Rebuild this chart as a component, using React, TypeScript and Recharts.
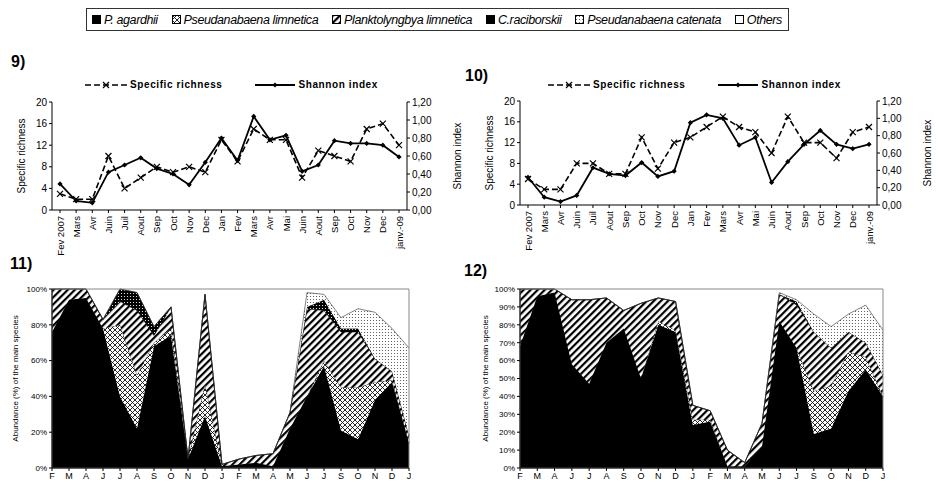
import React from 'react';
import { ComposedChart, Line, AreaChart, Area, XAxis, YAxis, ReferenceArea } from 'recharts';

// sampling months for panels 9) and 10)
const richMonths = ['Fev 2007', 'Mars', 'Avr', 'Juin', 'Juil', 'Aout', 'Sep', 'Oct', 'Nov', 'Dec', 'Jan', 'Fev', 'Mars', 'Avr', 'Mai', 'Juin', 'Aout', 'Sep', 'Oct', 'Nov', 'Dec', 'janv.-09'];
const richness9 = [3, 2, 2, 10, 4, 6, 8, 7, 8, 7, 13, 9, 15, 13, 13, 6, 11, 10, 9, 15, 16, 12];
const shannon9 = [0.29, 0.1, 0.08, 0.42, 0.5, 0.58, 0.46, 0.4, 0.28, 0.53, 0.8, 0.55, 1.04, 0.78, 0.83, 0.43, 0.5, 0.77, 0.74, 0.74, 0.72, 0.59];
const richness10 = [5, 3, 3, 8, 8, 6, 6, 13, 7, 12, 13, 15, 17, 15, 14, 10, 17, 12, 12, 9, 14, 15];
const shannon10 = [0.32, 0.09, 0.04, 0.11, 0.43, 0.36, 0.34, 0.49, 0.33, 0.39, 0.95, 1.04, 1.0, 0.69, 0.78, 0.26, 0.5, 0.7, 0.86, 0.7, 0.65, 0.7];
const richTicks = [0, 4, 8, 12, 16, 20];
const shannonTicks = [0, 0.2, 0.4, 0.6, 0.8, 1.0, 1.2];

// months for panels 11) and 12)
const areaMonths = ['F', 'M', 'A', 'J', 'J', 'A', 'S', 'O', 'N', 'D', 'J', 'F', 'M', 'A', 'M', 'J', 'J', 'S', 'O', 'N', 'D', 'J'];
const agardhii11 = [76, 94, 95, 78, 40, 22, 68, 74, 5, 29, 1, 2, 3, 1, 22, 40, 57, 21, 16, 38, 48, 14];
const limnetica11 = [0, 0, 0, 0, 40, 30, 2, 4, 0, 18, 0, 0, 0, 0, 0, 0, 3, 24, 29, 10, 1, 0];
const plankto11 = [24, 6, 5, 5, 13, 36, 4, 12, 0, 50, 1, 3, 4, 7, 9, 49, 28, 31, 31, 13, 5, 4];
const racib11 = [0, 0, 0, 0, 7, 10, 5, 0, 0, 0, 0, 0, 0, 0, 0, 1, 6, 2, 2, 0, 0, 0];
const catenata11 = [0, 0, 0, 0, 0, 0, 0, 0, 0, 0, 0, 0, 0, 0, 0, 8, 3, 6, 11, 26, 24, 49];

const agardhii12 = [68, 96, 98, 58, 47, 70, 78, 50, 80, 76, 24, 26, 1, 1, 12, 82, 67, 19, 22, 43, 55, 40];
const limnetica12 = [0, 0, 0, 0, 0, 0, 0, 0, 2, 1, 3, 1, 0, 0, 0, 0, 0, 24, 24, 22, 7, 0];
const plankto12 = [32, 4, 2, 36, 47, 25, 10, 42, 13, 16, 8, 5, 9, 2, 13, 15, 24, 33, 21, 11, 8, 12];
const racib12 = [0, 0, 0, 0, 0, 0, 0, 0, 0, 0, 0, 0, 0, 0, 0, 0, 2, 0, 0, 0, 0, 0];
const catenata12 = [0, 0, 0, 0, 0, 0, 0, 0, 0, 0, 0, 0, 0, 0, 0, 1, 1, 10, 12, 10, 21, 25];

const ticks11 = [0, 20, 40, 60, 80, 100];
const ticks12 = [0, 10, 20, 30, 40, 50, 60, 70, 80, 90, 100];

const FONT = "'Liberation Sans', Arial, sans-serif";

const Patterns = () => (
  <svg width={0} height={0} style={{ position: 'absolute' }}>
    <defs>
      <pattern id="pDiag" width={5} height={5} patternUnits="userSpaceOnUse" patternTransform="rotate(45)">
        <rect width={5} height={5} fill="#fff" />
        <rect width={2.2} height={5} fill="#000" />
      </pattern>
      <pattern id="pCross" width={5} height={5} patternUnits="userSpaceOnUse">
        <rect width={5} height={5} fill="#fff" />
        <path d="M0,0L5,5M5,0L0,5" stroke="#111" strokeWidth={0.9} />
      </pattern>
      <pattern id="pDark" width={3} height={3} patternUnits="userSpaceOnUse">
        <rect width={3} height={3} fill="#000" />
        <circle cx={1.5} cy={1.5} r={0.6} fill="#fff" />
      </pattern>
      <pattern id="pDots" width={3} height={3} patternUnits="userSpaceOnUse">
        <rect width={3} height={3} fill="#fff" />
        <circle cx={1.5} cy={1.5} r={0.55} fill="#444" />
      </pattern>
    </defs>
  </svg>
);

const RotTick = (props: any) => {
  const { x, y, payload } = props;
  return (
    <text x={x} y={y} transform={`rotate(-90, ${x}, ${y})`} textAnchor="end" dx={-1} dy={3.5} fontSize={9.5} fill="#000" fontFamily={FONT}>
      {payload.value}
    </text>
  );
};

const CrossDot = (p: any) => {
  const { cx, cy } = p;
  if (cx == null || cy == null) return null;
  const s = 3;
  return <path key={`c${p.index}`} d={`M${cx - s},${cy - s}L${cx + s},${cy + s}M${cx + s},${cy - s}L${cx - s},${cy + s}`} stroke="#000" strokeWidth={1.2} fill="none" />;
};

const DiamondDot = (p: any) => {
  const { cx, cy } = p;
  if (cx == null || cy == null) return null;
  const s = 2.6;
  return <path key={`d${p.index}`} d={`M${cx},${cy - s}L${cx + s},${cy}L${cx},${cy + s}L${cx - s},${cy}Z`} fill="#000" />;
};

const LineLegend = ({ left, top }: { left: number; top: number }) => (
  <div style={{ position: 'absolute', left, top, display: 'flex', alignItems: 'center', fontFamily: FONT, fontSize: 10, fontWeight: 'bold', letterSpacing: 0.6, whiteSpace: 'nowrap' }}>
    <svg width={42} height={10}>
      <line x1={0} y1={5} x2={42} y2={5} stroke="#000" strokeWidth={1.6} strokeDasharray="6 3" />
      <path d="M18,2L24,8M24,2L18,8" stroke="#000" strokeWidth={1.2} />
    </svg>
    <span style={{ marginLeft: 3 }}>Specific richness</span>
    <svg width={40} height={10} style={{ marginLeft: 33 }}>
      <line x1={0} y1={5} x2={40} y2={5} stroke="#000" strokeWidth={1.8} />
      <path d="M20,2.4L22.6,5L20,7.6L17.4,5Z" fill="#000" />
    </svg>
    <span style={{ marginLeft: 3 }}>Shannon index</span>
  </div>
);

function DiversityChart({ richness, shannon, margin, width }: { richness: number[]; shannon: number[]; margin: any; width: number }) {
  const data = richMonths.map((m, i) => ({ m, r: richness[i], s: shannon[i] }));
  return (
    <ComposedChart width={width} height={200} data={data} margin={margin}>
      <XAxis dataKey="m" interval={0} height={50} tick={<RotTick />} tickSize={3} stroke="#000" padding={{ left: 8, right: 8 }} />
      <YAxis yAxisId="l" domain={[0, 20]} ticks={richTicks} width={42} tickSize={3} stroke="#000"
        tick={{ fontSize: 10, fill: '#000', fontFamily: FONT }}
        label={{ value: 'Specific richness', angle: -90, position: 'insideLeft', dx: 6, style: { textAnchor: 'middle', fontSize: 10, fill: '#000', fontFamily: FONT } }} />
      <YAxis yAxisId="r" orientation="right" domain={[0, 1.2]} ticks={shannonTicks} width={55} tickSize={3} stroke="#000"
        tickFormatter={(v: number) => v.toFixed(2).replace('.', ',')}
        tick={{ fontSize: 10, fill: '#000', fontFamily: FONT }}
        label={{ value: 'Shannon index', angle: -90, position: 'insideRight', dx: 0, style: { textAnchor: 'middle', fontSize: 10, fill: '#000', fontFamily: FONT } }} />
      <Line yAxisId="l" dataKey="r" type="linear" stroke="#000" strokeWidth={1.6} strokeDasharray="6 3" dot={CrossDot} isAnimationActive={false} />
      <Line yAxisId="r" dataKey="s" type="linear" stroke="#000" strokeWidth={1.8} dot={DiamondDot} isAnimationActive={false} />
    </ComposedChart>
  );
}

function AbundanceChart({ agardhii, limnetica, plankto, racib, catenata, ticks, margin, width, yWidth }: any) {
  const data = areaMonths.map((m, i) => ({ i, a: agardhii[i], l: limnetica[i], p: plankto[i], c: racib[i], k: catenata[i] }));
  const idx = areaMonths.map((_, i) => i);
  const last = areaMonths.length - 1;
  return (
    <AreaChart width={width} height={232} data={data} margin={margin}>
      <XAxis dataKey="i" type="number" domain={[0, last]} ticks={idx} interval={0} tickFormatter={(v: number) => areaMonths[v]}
        height={14} tickSize={3} stroke="#000" tick={{ fontSize: 9, fill: '#000', fontFamily: FONT }} />
      <YAxis domain={[0, 100]} ticks={ticks} width={yWidth} tickSize={3} stroke="#000" tickFormatter={(v: number) => `${v}%`}
        tick={{ fontSize: 8, fill: '#000', fontFamily: FONT }}
        label={{ value: 'Abundance (%) of the main species', angle: -90, position: 'insideLeft', dx: 2, style: { textAnchor: 'middle', fontSize: 8, fill: '#000', fontFamily: FONT } }} />
      <Area dataKey="a" stackId="1" type="linear" fill="#000" fillOpacity={1} stroke="#000" strokeWidth={0.6} isAnimationActive={false} />
      <Area dataKey="l" stackId="1" type="linear" fill="url(#pCross)" fillOpacity={1} stroke="#000" strokeWidth={0.6} isAnimationActive={false} />
      <Area dataKey="p" stackId="1" type="linear" fill="url(#pDiag)" fillOpacity={1} stroke="#000" strokeWidth={0.6} isAnimationActive={false} />
      <Area dataKey="c" stackId="1" type="linear" fill="url(#pDark)" fillOpacity={1} stroke="#000" strokeWidth={0.6} isAnimationActive={false} />
      <Area dataKey="k" stackId="1" type="linear" fill="url(#pDots)" fillOpacity={1} stroke="#333" strokeWidth={0.6} isAnimationActive={false} />
      <ReferenceArea x1={0} x2={last} y1={0} y2={100} fill="none" stroke="#888" strokeWidth={1} />
    </AreaChart>
  );
}

const legendItems = [
  { name: 'P. agardhii', fill: '#000' },
  { name: 'Pseudanabaena limnetica', fill: 'url(#pCross)' },
  { name: 'Planktolyngbya limnetica', fill: 'url(#pDiag)' },
  { name: 'C.raciborskii', fill: '#000' },
  { name: 'Pseudanabaena catenata', fill: 'url(#pDots)' },
  { name: 'Others', fill: '#fff' },
];

const panelLabel = (text: string, left: number, top: number) => (
  <div style={{ position: 'absolute', left, top, fontFamily: FONT, fontWeight: 'bold', fontSize: 16 }}>{text}</div>
);

export default function App() {
  return (
    <div style={{ position: 'absolute', left: 0, top: 0, width: 938, height: 482, background: '#fff', overflow: 'hidden' }}>
      <Patterns />
      <div style={{ position: 'absolute', left: 86, top: 8, width: 703, height: 23, border: '1px solid #333', display: 'flex', alignItems: 'center', justifyContent: 'space-between', fontFamily: FONT, fontStyle: 'italic', fontSize: 12.5, letterSpacing: -0.4, whiteSpace: 'nowrap', boxSizing: 'border-box', padding: '0 6px 0 5px' }}>
        {legendItems.map((it) => (
          <span key={it.name} style={{ display: 'flex', alignItems: 'center' }}>
            <svg width={9} height={9} style={{ marginRight: 3 }}>
              <rect x={0.5} y={0.5} width={8} height={8} fill={it.fill} stroke="#000" strokeWidth={1} />
            </svg>
            {it.name}
          </span>
        ))}
      </div>

      {panelLabel('9)', 11, 53)}
      {panelLabel('10)', 465, 67)}
      {panelLabel('11)', 10, 255)}
      {panelLabel('12)', 464, 262)}

      <LineLegend left={85} top={79} />
      <LineLegend left={548} top={79} />

      <div style={{ position: 'absolute', left: 0, top: 60 }}>
        <DiversityChart richness={richness9} shannon={shannon9} width={470} margin={{ top: 42, right: 8, left: 10, bottom: 0 }} />
      </div>
      <div style={{ position: 'absolute', left: 470, top: 55 }}>
        <DiversityChart richness={richness10} shannon={shannon10} width={468} margin={{ top: 46, right: 6, left: 8, bottom: 0 }} />
      </div>

      <div style={{ position: 'absolute', left: 0, top: 250 }}>
        <AbundanceChart agardhii={agardhii11} limnetica={limnetica11} plankto={plankto11} racib={racib11} catenata={catenata11}
          ticks={ticks11} width={470} yWidth={44} margin={{ top: 39, right: 61, left: 8, bottom: 0 }} />
      </div>
      <div style={{ position: 'absolute', left: 470, top: 250 }}>
        <AbundanceChart agardhii={agardhii12} limnetica={limnetica12} plankto={plankto12} racib={racib12} catenata={catenata12}
          ticks={ticks12} width={468} yWidth={42} margin={{ top: 39, right: 55, left: 8, bottom: 0 }} />
      </div>
    </div>
  );
}
